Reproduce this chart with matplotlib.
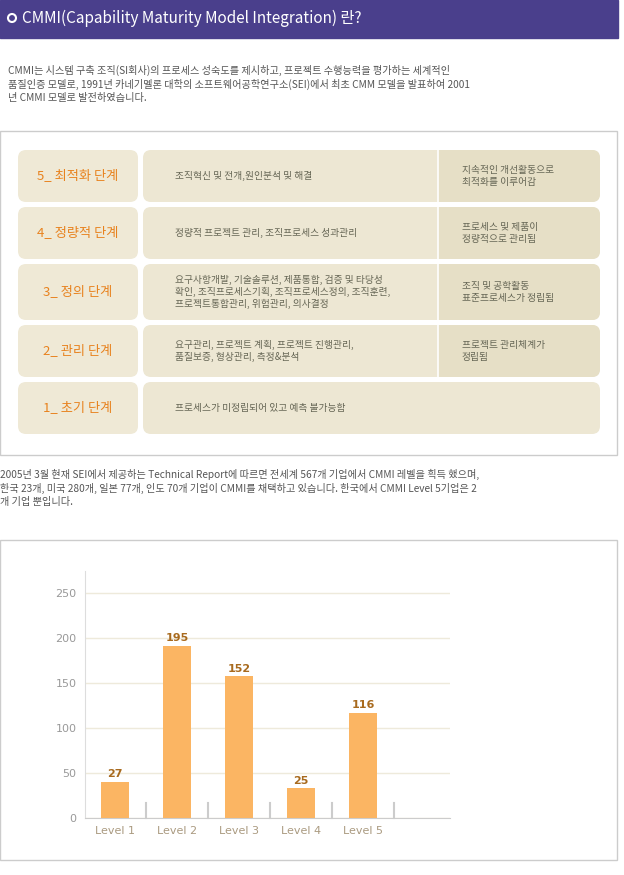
import matplotlib
matplotlib.use("Agg")
import matplotlib.pyplot as plt
from matplotlib.patches import FancyBboxPatch, Rectangle

plt.rcParams["font.family"] = ["Noto Sans CJK JP", "Noto Sans CJK KR", "DejaVu Sans"]

# chart data
levels = ["Level 1", "Level 2", "Level 3", "Level 4", "Level 5"]
bar_heights = [40, 191, 157, 33, 117]
bar_labels = ["27", "195", "152", "25", "116"]
y_ticks = [0, 50, 100, 150, 200, 250]

# table data
stage_names = ["5_ 최적화 단계", "4_ 정량적 단계", "3_ 정의 단계", "2_ 관리 단계", "1_ 초기 단계"]
stage_desc = [
    "조직혁신 및 전개,원인분석 및 해결",
    "정량적 프로젝트 관리, 조직프로세스 성과관리",
    "요구사항개발, 기술솔루션, 제품통합, 검증 및 타당성\n확인, 조직프로세스기획, 조직프로세스정의, 조직훈련,\n프로젝트통합관리, 위험관리, 의사결정",
    "요구관리, 프로젝트 계획, 프로젝트 진행관리,\n품질보증, 형상관리, 측정&분석",
    "프로세스가 미정립되어 있고 예측 불가능함",
]
stage_result = [
    "지속적인 개선활동으로\n최적화를 이루어감",
    "프로세스 및 제품이\n정량적으로 관리됨",
    "조직 및 공학활동\n표준프로세스가 정립됨",
    "프로젝트 관리체계가\n정립됨",
    "",
]
row_tops = [150, 207, 264, 325, 382]
row_bottoms = [202, 259, 320, 377, 434]

fig = plt.figure(figsize=(6.24, 8.75), dpi=100)
page = fig.add_axes([0, 0, 1, 1])
page.set_xlim(0, 624)
page.set_ylim(875, 0)
page.axis("off")

# header
page.add_patch(Rectangle((0, 0), 618, 38, color="#4a3f8c"))
page.add_patch(plt.Circle((12, 18), 4, fc="none", ec="white", lw=1.5))
page.text(22, 18, "CMMI(Capability Maturity Model Integration) 란?", color="white",
          fontsize=11, va="center")

text_col = "#555555"
page.text(8, 84, "CMMI는 시스템 구축 조직(SI회사)의 프로세스 성숙도를 제시하고, 프로젝트 수행능력을 평가하는 세계적인\n"
          "품질인증 모델로, 1991년 카네기멜론 대학의 소프트웨어공학연구소(SEI)에서 최초 CMM 모델을 발표하여 2001\n"
          "년 CMMI 모델로 발전하였습니다.", fontsize=7.3, color=text_col, va="center", linespacing=1.3)

# table box
page.add_patch(Rectangle((0, 131), 617, 324, fc="white", ec="#cccccc", lw=1))
for i in range(5):
    t, b = row_tops[i], row_bottoms[i]
    h = b - t
    page.add_patch(FancyBboxPatch((22, t + 4), 112, h - 8, boxstyle="round,pad=4,rounding_size=8",
                                  fc="#efe9d6", ec="none"))
    right = 596
    page.add_patch(FancyBboxPatch((147, t + 4), right - 147, h - 8, boxstyle="round,pad=4,rounding_size=8",
                                  fc="#ede7d3", ec="none"))
    if stage_result[i]:
        page.add_patch(FancyBboxPatch((442, t + 4), right - 442, h - 8,
                                      boxstyle="round,pad=4,rounding_size=8", fc="#e6dfc6", ec="none"))
        page.add_patch(Rectangle((438, t), 12, h, fc="#e6dfc6", ec="none"))
        page.plot([437.5, 437.5], [t, b], color="white", lw=1.2)
        page.text(462, (t + b) / 2, stage_result[i], fontsize=7, color="#666655", va="center",
                  linespacing=1.25)
    page.text(78, (t + b) / 2, stage_names[i], fontsize=9.5, color="#e8821e", va="center",
              ha="center")
    page.text(175, (t + b) / 2, stage_desc[i], fontsize=7, color="#666655", va="center",
              linespacing=1.25)

page.text(0, 488, "2005년 3월 현재 SEI에서 제공하는 Technical Report에 따르면 전세계 567개 기업에서 CMMI 레벨을 획득 했으며,\n"
          "한국 23개, 미국 280개, 일본 77개, 인도 70개 기업이 CMMI를 채택하고 있습니다. 한국에서 CMMI Level 5기업은 2\n"
          "개 기업 뿐입니다.", fontsize=7.3, color=text_col, va="center", linespacing=1.3)

# chart box
page.add_patch(Rectangle((0, 540), 617, 320, fc="white", ec="#cccccc", lw=1))

ax = fig.add_axes([85 / 624, 1 - 818 / 875, 365 / 624, 247 / 875])
x = list(range(len(levels)))
ax.bar(x, bar_heights, width=0.45, color="#fbb563", zorder=3)
for xi, h, lab in zip(x, bar_heights, bar_labels):
    ax.text(xi, h + 3, lab, ha="center", va="bottom", fontsize=8, color="#a86a1e",
            fontweight="bold", family="DejaVu Sans")
for xi in x:
    ax.plot([xi + 0.5, xi + 0.5], [0, 17], color="#cccccc", lw=1.5, zorder=2, clip_on=False)
ax.set_xlim(-0.48, 5.4)
ax.set_ylim(0, 274)
ax.set_yticks(y_ticks)
ax.set_yticklabels([str(v) for v in y_ticks], family="DejaVu Sans", fontsize=8, color="#999999")
ax.set_xticks(x)
ax.set_xticklabels(levels, family="DejaVu Sans", fontsize=8, color="#aa9a80")
ax.tick_params(length=0, pad=6)
ax.grid(axis="y", color="#eeeadb", lw=1, zorder=0)
for s in ["top", "right"]:
    ax.spines[s].set_visible(False)
ax.spines["left"].set_color("#dddddd")
ax.spines["bottom"].set_color("#cccccc")

fig.savefig("out.png", dpi=100)
